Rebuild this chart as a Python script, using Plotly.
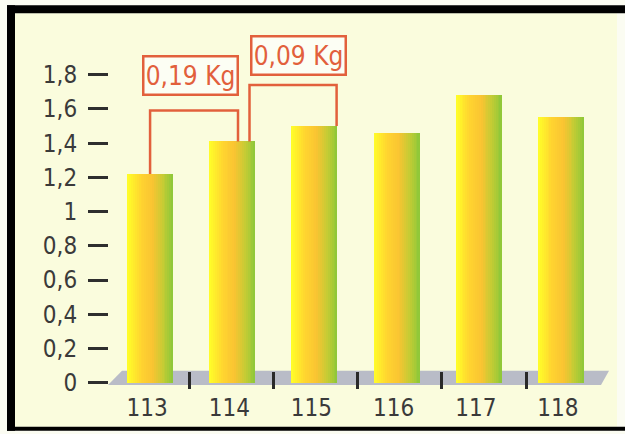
import plotly.graph_objects as go

# ---- data ----
categories = ["113", "114", "115", "116", "117", "118"]
values = [1.22, 1.41, 1.50, 1.46, 1.68, 1.55]
y_tickvals = [0, 0.2, 0.4, 0.6, 0.8, 1.0, 1.2, 1.4, 1.6, 1.8]
y_ticktext = ["0", "0,2", "0,4", "0,6", "0,8", "1", "1,2", "1,4", "1,6", "1,8"]
diff_labels = ["0,19 Kg", "0,09 Kg"]

# ---- layout geometry ----
W, H = 625, 434
L, R, T, B = 109, 23, 30, 42
PW, PH = W - L - R, H - T - B


def px(x):
    return (x - L) / PW


def py(y):
    return (H - B - y) / PH


FONT = "Liberation Sans Narrow, Arial Narrow, DejaVu Sans Condensed, sans-serif"
RED = "#e2603c"
xs = list(range(len(categories)))

# gradient stops for the bars (left -> right)
stops = [(0.0, (255, 255, 40)), (0.3, (255, 212, 48)), (0.55, (250, 196, 50)),
         (0.78, (196, 204, 52)), (1.0, (140, 200, 58))]


def grad(t):
    for (t0, c0), (t1, c1) in zip(stops[:-1], stops[1:]):
        if t0 <= t <= t1:
            f = (t - t0) / (t1 - t0)
            c = [round(a + (b - a) * f) for a, b in zip(c0, c1)]
            return "rgb(%d,%d,%d)" % tuple(c)
    return "rgb(%d,%d,%d)" % stops[-1][1]


fig = go.Figure()
BW = 0.56
N = 24
step = BW / N
for i in range(N):
    w = step * 1.4 if i < N - 1 else step
    fig.add_trace(go.Bar(
        x=xs, y=values, width=w, offset=-BW / 2 + i * step,
        marker=dict(color=grad((i + 0.5) / N), line=dict(width=0)),
        showlegend=False, hoverinfo="skip"))


def rect(x0, y0, x1, y1, color):
    return dict(type="rect", xref="paper", yref="paper", x0=px(x0), x1=px(x1),
                y0=py(y1), y1=py(y0), fillcolor=color, line=dict(width=0), layer="below")


shapes = [
    rect(15, 13, 617, 430, "#fafcdd"),   # cream panel
    rect(7, 5, 625, 13, "#000000"),      # top border
    rect(7, 5, 15, 434, "#000000"),      # left border
    rect(7, 430, 625, 434, "#000000"),   # bottom border
    # floor
    dict(type="path", xref="paper", yref="paper",
         path="M %f,%f L %f,%f L %f,%f L %f,%f Z" % (px(108), py(388), px(122), py(373.5),
                                                     px(609), py(373.5), px(601), py(388)),
         fillcolor="#b9bcc7", line=dict(width=0), layer="below"),
]

# brackets showing differences
br = [(0, 1, 1.07, 1.59), (1, 2, 2.27, 1.74)]
br_left = [0, 1.21]
for k, (a, b, xr, ytop) in enumerate(br):
    xl = br_left[k]
    shapes.append(dict(type="path", xref="x", yref="y",
                       path="M %f,%f L %f,%f L %f,%f L %f,%f" % (xl, values[a], xl, ytop, xr, ytop, xr, values[b]),
                       line=dict(color=RED, width=2.5)))

annotations = [
    dict(x=0.49, y=1.795, xref="x", yref="y", text=diff_labels[0], showarrow=False,
         font=dict(family=FONT, size=26, color=RED), bgcolor="#fcfef4",
         bordercolor=RED, borderwidth=2.5, width=90, height=34, borderpad=1),
    dict(x=1.81, y=1.91, xref="x", yref="y", text=diff_labels[1], showarrow=False,
         font=dict(family=FONT, size=26, color=RED), bgcolor="#fcfef4",
         bordercolor=RED, borderwidth=2.5, width=90, height=34, borderpad=1),
]

fig.update_layout(
    width=W, height=H,
    margin=dict(l=L, r=R, t=T, b=B, pad=0),
    paper_bgcolor="#fbfcf2", plot_bgcolor="rgba(0,0,0,0)",
    barmode="overlay", bargap=0,
    shapes=shapes, annotations=annotations,
    xaxis=dict(range=[-0.5, 5.5], tickvals=xs, ticktext=categories, ticks="",
               showgrid=False, zeroline=False, showline=False,
               tickfont=dict(family=FONT, size=24, color="#3a3a3a"),
               ticklabelshift=-3, ticklabelstandoff=2,
               minor=dict(tickvals=[0.48, 1.5, 2.52, 3.55, 4.58], ticks="inside",
                          ticklen=17, tickwidth=2.5, tickcolor="#2a2a2a", showgrid=False)),
    yaxis=dict(range=[-0.0365, 2.061], tickvals=y_tickvals, ticktext=y_ticktext,
               ticks="outside", ticklen=20, tickwidth=3, tickcolor="#2e2e2e",
               showgrid=False, zeroline=False, showline=False,
               tickfont=dict(family=FONT, size=24, color="#3a3a3a"),
               ticklabelstandoff=6),
)

fig.write_html("out.html")
